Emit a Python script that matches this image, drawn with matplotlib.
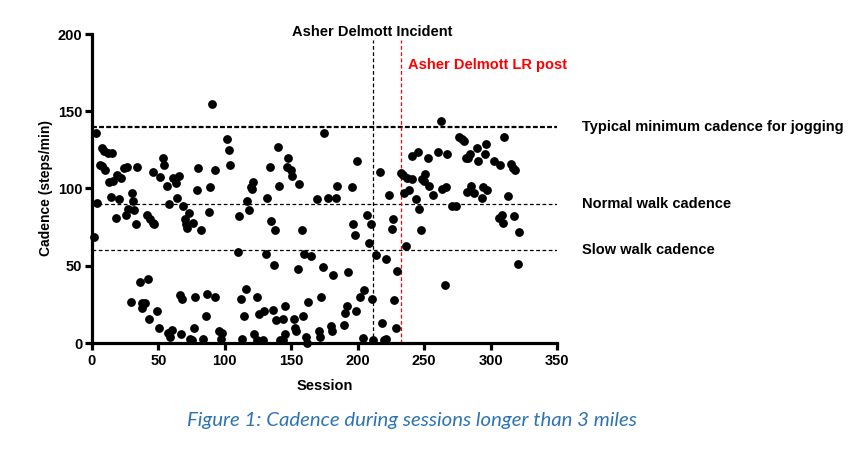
import matplotlib
matplotlib.use("Agg")
import matplotlib.pyplot as plt
import matplotlib.transforms as mtransforms

# ---- data ----
session = [90.1, 3, 7.3, 9.3, 11.8, 14.8, 6, 7.8, 9.8, 13, 16, 19, 21.8, 24.3, 26.3, 34, 46, 51, 53.2, 54.2,
           56.2, 61.2, 63, 65.5, 64, 68.7, 58.2, 80, 79.3, 88.8, 92.6, 4, 14.3, 20, 29.9, 31.1, 27.3, 25.4, 31.8, 18,
           33.1, 41.1, 43.6, 45.7, 46.9, 70, 70.7, 71.7, 73, 75.8, 82, 88, 1.5,
           174.9, 101.9, 102.9, 103.9, 139.7, 147.8, 134, 146.8, 149.8, 150.8, 155.8, 140.8, 121, 119.4, 120.2, 131.7,
           116.9, 117.9, 110.9, 134.7, 137.7, 157.8, 169.6, 177.8, 109.9, 130.7, 159.6, 164.8,
           262.5, 199.7, 216.8, 232.6, 233.8, 237.3, 241.1, 240.6, 245.6, 252.6, 260.7, 267.4, 250.6, 248.6, 249.6,
           253.6, 263.7, 266.2, 238.6, 234.8, 223.8, 256.4, 243.6, 184.6, 195.9, 183.6, 270.7, 246.3, 206.7, 196.7,
           209.8, 226.8, 225.6, 247.6, 197.7, 208.5, 236.3, 213.5, 221.5,
           36.1, 41.9, 29.4, 37.9, 39.9, 37.4, 48.9, 43.1, 50.2, 57.4, 60.5, 58.9, 67, 66, 68, 77.8, 86.8, 92.6, 86,
           76.8, 74, 75.5, 83.8,
           136.7, 154.8, 173.6, 181.4, 115.9, 111.9, 124, 162.8, 172.6, 114.6, 125.7, 129.7, 136, 145.5, 138.7, 143.8,
           151.8, 158.8, 95.6, 98.1, 97.1, 112.9, 121.9, 124, 129, 141.3, 143.5, 145, 152.8, 153.8, 160.8, 161.8,
           171.1, 171.8, 179.6, 180.4,
           229.8, 192.9, 265.7, 204.7, 201.7, 210.7, 227.5, 191.7, 190.4, 198.5, 189.7, 218.5, 228.6, 203.7, 211.7,
           220, 221.3,
           276.2, 278.7, 280.2, 310.3, 296.6, 289.6, 284.5, 281.3, 283.2, 295.5, 290.5, 302.3, 307.3, 315.4, 316.6,
           318.6, 285.5, 282.5, 287.5, 294.5, 297.3, 293.5, 313.4, 273.7, 308.4, 306.6, 309.6, 317.6, 321.6, 320.4]
cadence = [154.7, 136, 126, 124.5, 123, 123, 115, 114.5, 112, 104, 105, 108.7, 106.6, 113, 114, 114, 111, 107.6, 120, 115,
           101.8, 106.6, 103.8, 108, 94, 88.9, 90, 113, 99, 100.8, 112, 90.8, 94.7, 93, 96.9, 91.9, 86.9, 82.8, 85.9, 80.9,
           76.8, 82.8, 80, 77.9, 76.8, 80, 77, 74.2, 84, 77.9, 72.9, 84.6, 68.8,
           136.1, 132, 124.9, 115, 127, 120, 114, 114, 112, 107.9, 102.9, 101.8, 104, 101.2, 99.9, 93.9,
           91.9, 85.9, 82, 79, 72.9, 72.9, 93, 93.9, 58.7, 57.8, 57.8, 56.5,
           143.9, 118, 110.9, 109.8, 108.7, 106.8, 106, 121, 123.8, 120, 123.8, 122.1, 109.2, 106, 105,
           101.8, 99.9, 100.8, 99, 96.9, 95.8, 95.8, 93, 101.8, 100.8, 94, 88.9, 86.9, 82.8, 76.8,
           76.8, 80, 73.8, 72.9, 69.9, 64.7, 63, 56.8, 54.2,
           39.7, 41.6, 26.5, 25.7, 25.7, 22.4, 20.7, 15.7, 9.7, 6.7, 8.4, 3.7, 5.6, 30.9, 28.5, 29.8, 31.7, 29.8, 17.5,
           9.7, 2.6, 1.9, 2.6,
           50.7, 47.7, 49, 43.8, 34.7, 28.7, 29.8, 26.5, 29.8, 17.7, 18.8, 20.7, 21.6, 23.7, 14.7, 15.7,
           15.7, 17.7, 7.8, 6.7, 2.8, 2.8, 5.6, 1.9, 1.9, 1.9, 1.9, 5.6, 9.7, 7.6, 3.7, 0,
           7.8, 3.7, 10.8, 7.8,
           46.6, 45.8, 37.7, 34.5, 29.8, 28.7, 27.6, 23.7, 19.6, 20.7, 11.7, 12.7, 9.7, 3.5, 1.9,
           1.9, 2.4,
           133.1, 132, 130.9, 133.1, 129, 126, 122.1, 120, 120, 122.1, 118, 118, 115, 116.1, 113.1,
           112, 101.8, 97.9, 96.9, 101, 99, 93.9, 94.9, 88.9, 82.8, 80.9, 77.9, 82, 71.7, 51.1]

ref_levels = [140, 90, 60]
ref_labels = ["Typical minimum cadence for jogging", "Normal walk cadence", "Slow walk cadence"]
events = [211.3, 232.8]
event_labels = ["Asher Delmott Incident", "Asher Delmott LR post"]

x_ticks = [0, 50, 100, 150, 200, 250, 300, 350]
y_ticks = [0, 50, 100, 150, 200]

# ---- figure ----
plt.rcParams['font.family'] = ['Liberation Sans', 'DejaVu Sans']
fig = plt.figure(figsize=(8.61, 4.61), dpi=100)
ax = fig.add_axes([92 / 861, 1 - 343 / 461, 465 / 861, 309 / 461])

ax.plot(session, cadence, 'o', color='black', markersize=5.3, clip_on=False, zorder=3)

# reference lines
ax.axhline(ref_levels[0], color='black', lw=1.6, ls=(0, (2.2, 1.0)), zorder=2)
ax.axhline(ref_levels[1], color='black', lw=0.9, ls=(0, (3, 2)), zorder=2)
ax.axhline(ref_levels[2], color='black', lw=0.9, ls=(0, (3, 2)), zorder=2)
ax.axvline(events[0], ymax=0.98, color='black', lw=0.9, ls=(0, (3, 2)), zorder=2)
ax.axvline(events[1], ymax=0.98, color='red', lw=0.9, ls=(0, (3, 2)), zorder=2)

ax.set_xlim(0, 350)
ax.set_ylim(0, 200)
ax.set_xticks(x_ticks)
ax.set_yticks(y_ticks)

for s in ['top', 'right']:
    ax.spines[s].set_visible(False)
for s in ['left', 'bottom']:
    ax.spines[s].set_linewidth(2.3)
ax.tick_params(axis='both', direction='out', length=5, width=2.3, labelsize=10.5, pad=2)
ax.tick_params(axis='x', pad=3)
for lab in ax.get_xticklabels() + ax.get_yticklabels():
    lab.set_fontweight('bold')

ax.set_xlabel("Session", fontsize=10.5, fontweight='bold', labelpad=8)
ax.set_ylabel("Cadence (steps/min)", fontsize=10, fontweight='bold', labelpad=3)

# right-side labels for reference lines
blend = mtransforms.blended_transform_factory(fig.transFigure, ax.transData)
for lvl, txt in zip(ref_levels, ref_labels):
    ax.text(582 / 861, lvl, txt, transform=blend,
            fontsize=10.5, fontweight='bold', va='center', ha='left', clip_on=False)

# event labels
fig.text(372 / 861, 1 - 32 / 461, event_labels[0], fontsize=10.5, fontweight='bold', ha='center', va='center')
fig.text(408 / 861, 1 - 65 / 461, event_labels[1], fontsize=10.5, fontweight='bold', ha='left', va='center', color='red')

# caption
fig.text(412 / 861, 1 - 420 / 461, "Figure 1: Cadence during sessions longer than 3 miles",
         fontsize=14.7, style='italic', family=['Lato', 'DejaVu Sans'], color='#2E74B5', ha='center', va='center')

fig.savefig("out.png", dpi=100)
